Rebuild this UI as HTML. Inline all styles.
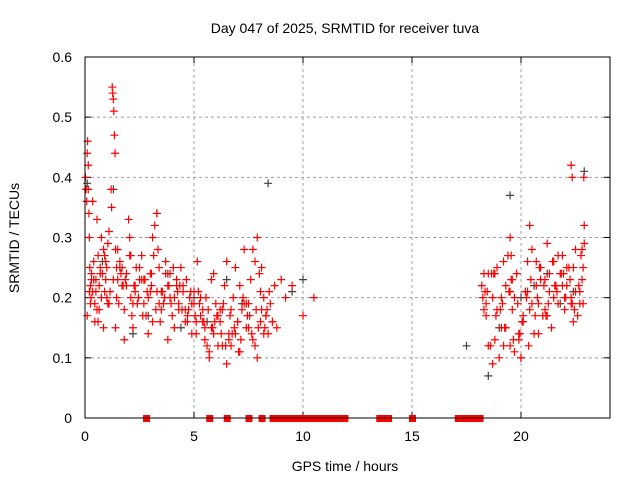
<!DOCTYPE html>
<html><head><meta charset="utf-8"><style>
body{margin:0;background:#fff}
text{font-family:"Liberation Sans",sans-serif;font-size:14px;fill:#000}
</style></head><body>
<svg id="c" width="640" height="480" viewBox="0 0 640 480" xmlns="http://www.w3.org/2000/svg">
<text x="345" y="33" text-anchor="middle">Day 047 of 2025, SRMTID for receiver tuva</text>
<text x="345" y="471" text-anchor="middle">GPS time / hours</text>
<text transform="translate(19,238) rotate(-90)" text-anchor="middle">SRMTID / TECUs</text>
<g id="grid"></g>
<g id="ticks"></g>
<g id="pts"></g>
<rect x="85" y="57" width="525" height="361" fill="none" stroke="#000" stroke-width="1"/>
</svg>
<script>
const xTicks=[0,5,10,15,20];
const yTicks=[0,0.1,0.2,0.3,0.4,0.5,0.6];
const yTickLabels=["0","0.1","0.2","0.3","0.4","0.5","0.6"];
const redT=[0.02,0.05,0.08,0.1,0.12,0.15,0.18,0.2,0.22,0.25,0.28,0.3,0.35,0.4,0.45,0.5,0.55,0.6,0.65,0.7,0.75,0.8,0.85,0.9,0.95,1.0,1.05,1.1,1.2,1.22,1.25,1.27,1.3,1.32,1.35,1.38,1.4,1.45,1.5,1.55,1.6,1.7,1.8,1.9,2.0,2.05,2.1,2.15,2.2,2.3,2.4,2.5,2.6,2.7,2.8,2.9,3.0,3.05,3.1,3.2,3.3,3.35,3.4,3.5,3.6,3.7,3.8,3.9,4.0,4.1,4.2,4.3,4.4,4.5,4.6,4.7,4.8,4.9,5.0,5.1,5.2,5.3,5.4,5.5,5.6,5.7,5.8,5.9,6.0,6.1,6.2,6.3,6.4,6.5,6.6,6.7,6.8,6.9,7.0,7.1,7.2,7.3,7.4,7.5,7.6,7.7,7.8,7.9,8.0,8.05,8.1,8.2,8.3,8.4,8.5,8.6,8.7,8.8,9.0,9.2,9.5,10.0,10.5,0.1,0.3,0.5,0.7,0.9,1.1,1.3,1.5,1.7,1.9,2.1,2.3,2.5,2.7,2.9,3.1,3.3,3.5,3.7,3.9,4.1,4.3,4.5,4.7,4.9,5.1,5.3,5.5,5.7,5.9,6.1,6.3,6.5,6.7,6.9,7.1,7.3,7.5,7.7,7.9,8.1,8.3,0.2,0.6,1.0,1.4,1.8,2.2,2.6,3.0,3.4,3.8,4.2,4.6,5.0,5.4,5.8,6.2,6.6,7.0,7.4,7.8,8.2,8.6,
18.2,18.3,18.4,18.5,18.6,18.7,18.8,18.9,19.0,19.1,19.2,19.3,19.4,19.5,19.6,19.7,19.8,19.9,20.0,20.1,20.2,20.3,20.4,20.5,20.6,20.7,20.8,20.9,21.0,21.1,21.2,21.3,21.4,21.5,21.6,21.7,21.8,21.9,22.0,22.1,22.2,22.3,22.4,22.5,22.6,22.7,22.8,22.9,18.3,18.5,18.7,18.9,19.1,19.3,19.5,19.7,19.9,20.1,20.3,20.5,20.7,20.9,21.1,21.3,21.5,21.7,21.9,22.1,22.3,22.5,22.7,18.4,18.8,19.2,19.6,20.0,20.4,20.8,21.2,21.6,22.0,22.4,22.8,19.5,19.55,22.85,22.9,22.88,22.3,22.35,
0.15,0.35,0.55,0.75,0.95,1.15,1.45,1.65,1.85,2.05,2.25,2.45,2.65,2.85,3.05,3.25,3.45,3.65,3.85,4.05,4.25,4.45,4.65,4.85,5.05,5.25,5.45,5.65,5.85,6.05,6.25,6.45,6.65,6.85,7.05,7.25,7.45,7.65,7.85,8.05,8.25,8.45,0.25,0.45,0.65,0.85,1.05,1.75,2.35,2.75,3.15,3.55,3.95,4.35,4.75,5.15,5.55,5.95,6.35,6.75,7.15,7.55,7.95,8.35,
18.25,18.45,18.65,18.85,19.05,19.25,19.45,19.65,19.85,20.05,20.25,20.45,20.65,20.85,21.05,21.25,21.45,21.65,21.85,22.05,22.25,22.45,22.65,22.85,18.35,18.75,19.15,19.55,19.95,20.35,20.75,21.15,21.55,21.95,22.35,22.75];
const redV=[0.40,0.38,0.36,0.44,0.46,0.42,0.34,0.30,0.25,0.22,0.20,0.24,0.21,0.26,0.19,0.23,0.18,0.27,0.22,0.25,0.20,0.24,0.28,0.21,0.26,0.25,0.29,0.31,0.38,0.35,0.55,0.54,0.53,0.51,0.47,0.44,0.28,0.25,0.23,0.19,0.26,0.22,0.18,0.24,0.33,0.30,0.20,0.17,0.15,0.22,0.19,0.25,0.27,0.23,0.17,0.20,0.24,0.22,0.30,0.32,0.34,0.28,0.25,0.21,0.19,0.24,0.22,0.20,0.17,0.15,0.22,0.19,0.25,0.21,0.18,0.16,0.20,0.14,0.19,0.16,0.21,0.17,0.18,0.13,0.12,0.10,0.15,0.24,0.19,0.12,0.16,0.18,0.22,0.26,0.14,0.12,0.20,0.25,0.16,0.22,0.18,0.28,0.15,0.19,0.23,0.28,0.26,0.30,0.24,0.21,0.18,0.20,0.17,0.14,0.19,0.16,0.22,0.15,0.23,0.20,0.22,0.17,0.20,0.17,0.23,0.21,0.24,0.27,0.19,0.23,0.28,0.25,0.22,0.27,0.21,0.23,0.19,0.14,0.16,0.21,0.18,0.26,0.24,0.20,0.18,0.22,0.17,0.19,0.14,0.20,0.15,0.11,0.14,0.17,0.12,0.09,0.18,0.14,0.11,0.19,0.15,0.13,0.10,0.25,0.17,0.21,0.16,0.20,0.15,0.13,0.19,0.23,0.21,0.19,0.13,0.23,0.16,0.21,0.16,0.23,0.18,0.13,0.16,0.19,0.12,0.14,0.16,0.22,0.18,0.19,0.24,0.12,
0.20,0.13,0.18,0.10,0.15,0.12,0.22,0.27,0.30,0.18,0.11,0.24,0.14,0.10,0.17,0.21,0.26,0.32,0.28,0.14,0.22,0.19,0.25,0.17,0.23,0.29,0.21,0.15,0.26,0.22,0.19,0.24,0.27,0.18,0.22,0.25,0.20,0.16,0.21,0.17,0.19,0.28,0.32,0.24,0.12,0.09,0.25,0.20,0.15,0.12,0.20,0.13,0.16,0.21,0.19,0.26,0.23,0.18,0.24,0.20,0.27,0.22,0.25,0.19,0.28,0.21,0.17,0.24,0.26,0.23,0.10,0.18,0.14,0.17,0.22,0.20,0.25,0.23,0.21,0.27,0.19,0.29,0.40,0.42,0.40,0.38,0.36,0.33,0.30,
0.23,0.21,0.20,0.24,0.23,0.27,0.22,0.20,0.17,0.21,0.24,0.18,0.16,0.20,0.22,0.25,0.21,0.18,0.23,0.21,0.17,0.19,0.16,0.18,0.15,0.17,0.14,0.12,0.17,0.15,0.11,0.20,0.17,0.14,0.18,0.16,0.15,0.21,0.19,0.16,0.18,0.15,0.19,0.22,0.25,0.23,0.27,0.21,0.19,0.22,0.18,0.26,0.20,0.16,0.19,0.14,0.13,0.17,0.15,0.18,0.20,0.21,0.24,0.17,
0.18,0.15,0.21,0.13,0.19,0.16,0.20,0.23,0.17,0.25,0.22,0.19,0.26,0.21,0.24,0.20,0.23,0.18,0.22,0.25,0.21,0.24,0.19,0.23,0.14,0.12,0.20,0.17,0.22,0.24,0.19,0.27,0.20,0.23,0.18,0.21];
const darkT=[0.1,0.4,0.8,1.3,1.6,2.2,2.9,3.3,3.8,4.4,5.0,5.6,6.5,7.2,8.4,9.5,10.0,17.5,18.5,19.0,19.5,20.0,20.6,21.2,21.8,22.4,22.9];
const darkV=[0.39,0.23,0.26,0.38,0.25,0.14,0.17,0.34,0.24,0.15,0.20,0.16,0.23,0.19,0.39,0.21,0.23,0.12,0.07,0.15,0.37,0.20,0.22,0.24,0.19,0.21,0.41];
const zeroT=[2.8,5.7,6.5,7.5,8.1,8.6,8.9,9.2,9.5,9.8,10.1,10.4,10.7,11.0,11.3,11.6,11.9,13.5,13.7,13.9,15.0,17.1,17.3,17.5,17.7,17.9,18.1];
const X=h=>85+h*21.8, Y=v=>418-v*601.7;
const NS="http://www.w3.org/2000/svg";
function mk(tag,attrs,parent){const e=document.createElementNS(NS,tag);for(const k in attrs)e.setAttribute(k,attrs[k]);parent.appendChild(e);return e;}
const grid=document.getElementById('grid'),ticks=document.getElementById('ticks'),pts=document.getElementById('pts');
xTicks.forEach(t=>{const x=X(t);
 if(t>0){const g=mk('line',{x1:x,x2:x,y1:57,y2:418,stroke:'#a0a0a0','stroke-dasharray':'3,3'},grid);
 
 }
 mk('line',{x1:x,x2:x,y1:418,y2:412,stroke:'#000'},ticks);mk('line',{x1:x,x2:x,y1:57,y2:63,stroke:'#000'},ticks);
 const l=mk('text',{x:x,y:441,'text-anchor':'middle'},ticks);l.textContent=t;
 
 });
yTicks.forEach((t,i)=>{const y=Y(t);
 if(t>0&&t<0.6){const g=mk('line',{x1:85,x2:610,y1:y,y2:y,stroke:'#a0a0a0','stroke-dasharray':'3,3'},grid);
 
 }
 mk('line',{x1:85,x2:91,y1:y,y2:y,stroke:'#000'},ticks);mk('line',{x1:610,x2:604,y1:y,y2:y,stroke:'#000'},ticks);
 const l=mk('text',{x:72,y:y+5,'text-anchor':'end'},ticks);l.textContent=yTickLabels[i];
 
 });
function plus(x,y,c,name){const p=mk('path',{d:`M${x-4},${y}h8M${x},${y-4}v8`,stroke:c,'stroke-width':1.2},pts);
 
 }
darkT.forEach((t,i)=>plus(X(t),Y(darkV[i]),'#404040','dark-point'));
redT.forEach((t,i)=>plus(X(t),Y(redV[i]),'#ff0000','red-point'));
zeroT.forEach(t=>{const r=mk('rect',{x:X(t)-3,y:415,width:7,height:7,fill:'#ff0000'},pts);
 
 });
</script>
</body></html>
